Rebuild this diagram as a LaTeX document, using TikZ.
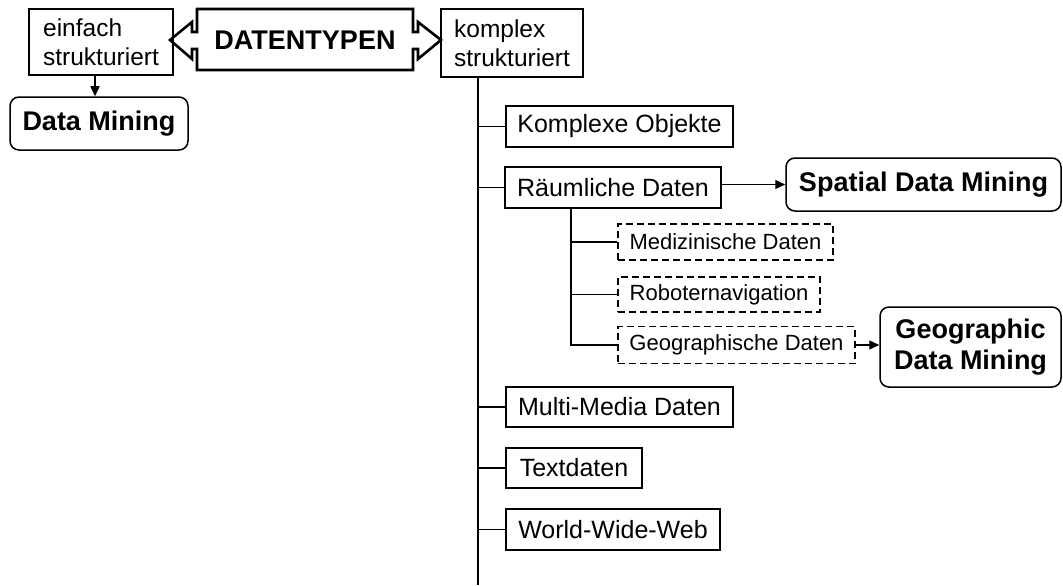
\documentclass[tikz,border=0pt]{standalone}
\usepackage{fontspec}
\setmainfont{Liberation Sans}
\usetikzlibrary{arrows.meta}
\begin{document}
\begin{tikzpicture}[x=1pt,y=-1pt,
  box/.style={draw,line width=1.3pt,inner sep=0pt,font=\fontsize{25}{28}\selectfont},
  twoline/.style={box,align=left,font=\fontsize{24.5}{28.5}\selectfont},
  dbox/.style={draw,line width=1.3pt,dash pattern=on 7pt off 4pt,inner sep=0pt,font=\fontsize{22}{26}\selectfont},
  rbox/.style={draw,line width=1.5pt,rounded corners=9pt,inner sep=0pt,align=center,font=\bfseries\fontsize{27}{31}\selectfont},
  conn/.style={line width=1.3pt},
  arr/.style={line width=1.3pt,-{Triangle[length=10pt,width=9pt]}}
]
\useasboundingbox (0,0) rectangle (1063,586);
% top row
\node[twoline,minimum width=144pt,minimum height=66pt] (einf) at (101,42) {einfach\\strukturiert};
\node[twoline,minimum width=142pt,minimum height=68pt] (komp) at (512,43) {komplex\\strukturiert};
\node[inner sep=0pt,font=\bfseries\fontsize{27}{31}\selectfont] (dt) at (305,40) {DATENTYPEN};
\draw[line width=2.6pt,line join=miter]
  (197,9) -- (413,9) -- (413,32) -- (418,32) -- (418,22) -- (441,40) -- (418,59) -- (418,49) -- (413,49) -- (413,70)
  -- (197,70) -- (197,49) -- (192,49) -- (192,59) -- (170,40) -- (192,22) -- (192,32) -- (197,32) -- cycle;
% left
\node[rbox,minimum width=178pt,minimum height=53pt] (dm) at (99,123.5) {Data Mining};
\coordinate (a1) at (95,75);
\draw[arr] (a1) -- (a1 |- dm.north);
% right trunk
\coordinate (tr) at (478,77);
\coordinate (trend) at (478,585);
\draw[conn] (tr) -- (trend);
\node[box,minimum width=227pt,minimum height=41pt] (kobj) at (619.5,126.5) {Komplexe Objekte};
\node[box,minimum width=216pt,minimum height=41pt] (raum) at (613,187.5) {Räumliche Daten};
\node[box,minimum width=227pt,minimum height=40pt] (mm) at (619.5,407) {Multi-Media Daten};
\node[box,minimum width=136pt,minimum height=40pt] (txt) at (574,468) {Textdaten};
\node[box,minimum width=214pt,minimum height=41pt] (www) at (613,529.5) {World-Wide-Web};
\foreach \n in {kobj,raum,mm,txt,www}
  \draw[conn] (\n.west) -- (\n.west -| tr);
% spatial
\node[rbox,minimum width=275pt,minimum height=53pt] (sdm) at (923.5,184.5) {Spatial Data Mining};
\draw[arr] (raum.east |- sdm.west) -- (sdm.west);
% sub trunk
\node[dbox,minimum width=215pt,minimum height=36pt] (med) at (725.5,242) {Medizinische Daten};
\node[dbox,minimum width=202pt,minimum height=35pt] (rob) at (719,294.5) {Roboternavigation};
\node[dbox,minimum width=237pt,minimum height=37pt] (geo) at (736.5,345) {Geographische Daten};
\coordinate (st) at (571,208);
\draw[conn] (st) -- (st |- geo.west) -- (geo.west);
\draw[conn] (med.west) -- (med.west -| st);
\draw[conn] (rob.west) -- (rob.west -| st);
\node[rbox,minimum width=181pt,minimum height=80pt] (gdm) at (970.5,347) {Geographic\\Data Mining};
\draw[arr] (geo.east) -- (geo.east -| gdm.west);
\end{tikzpicture}
\end{document}
